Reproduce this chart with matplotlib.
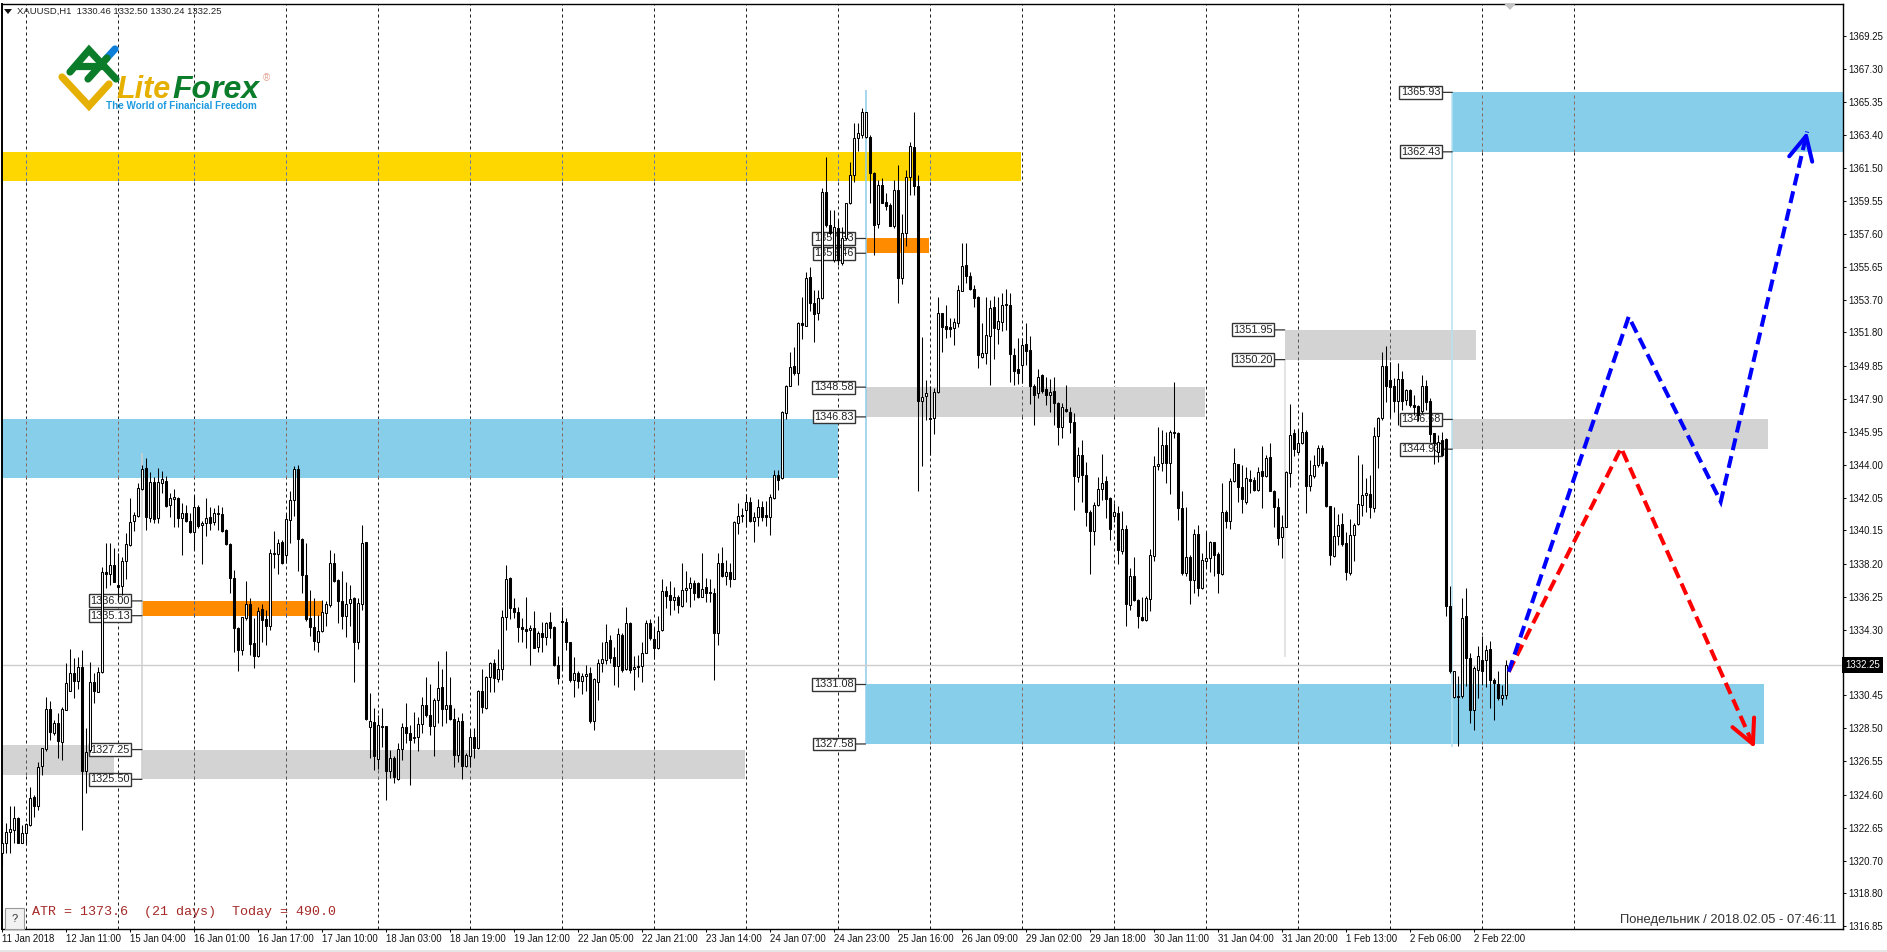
import numpy as np
import matplotlib
matplotlib.use("Agg")
import matplotlib.pyplot as plt
from matplotlib.patches import Rectangle, Polygon
from matplotlib.transforms import Affine2D, blended_transform_factory

W, H = 1887, 952

# hourly XAUUSD bars
opens = [
    1321.15,1321.74,1322.37,1322.53,1323.21,1321.78,1322.33,1322.82,1324.45,1323.90,
    1326.29,1327.27,1329.63,1328.21,1328.84,1327.72,1329.59,1330.70,1331.78,1331.31,
    1332.10,1325.96,1327.23,1331.21,1330.66,1331.80,1337.72,1337.59,1338.12,1336.94,
    1336.88,1338.37,1339.29,1340.70,1341.00,1342.57,1343.80,1340.86,1343.02,1340.86,
    1342.92,1343.08,1341.65,1341.98,1342.04,1340.86,1341.15,1340.72,1340.08,1341.55,
    1340.47,1340.57,1340.96,1340.66,1341.10,1341.10,1340.17,1339.35,1337.37,1334.43,
    1333.12,1334.98,1335.80,1333.51,1332.76,1335.51,1334.92,1334.55,1338.76,1338.76,
    1339.49,1338.70,1340.76,1341.94,1343.74,1339.63,1337.53,1334.98,1334.49,1333.61,
    1334.25,1335.31,1335.74,1338.21,1337.23,1336.02,1335.12,1335.86,1336.15,1333.61,
    1335.82,1339.45,1328.57,1328.90,1326.68,1328.57,1328.61,1325.96,1326.74,1325.51,
    1327.27,1328.57,1328.25,1327.92,1327.98,1328.76,1329.86,1329.29,1328.61,1330.17,
    1330.92,1329.63,1329.86,1329.04,1326.94,1328.92,1326.29,1326.88,1327.98,1327.33,
    1330.70,1329.68,1331.55,1332.37,1331.39,1331.98,1335.04,1337.33,1335.61,1335.37,
    1334.45,1334.35,1334.29,1334.39,1333.31,1334.14,1333.86,1334.73,1334.45,1332.24,
    1334.84,1334.78,1333.61,1331.35,1331.78,1331.27,1331.59,1331.75,1328.92,1331.25,
    1332.37,1332.53,1333.67,1332.69,1332.14,1334.00,1331.98,1334.69,1331.98,1332.18,
    1332.14,1332.92,1334.69,1333.75,1333.20,1334.29,1336.61,1336.33,1336.06,1336.25,
    1335.71,1336.65,1336.76,1337.04,1337.04,1336.25,1336.80,1336.55,1336.45,1334.14,
    1338.22,1337.47,1337.69,1337.31,1340.57,1341.02,1341.35,1341.84,1340.71,1340.96,
    1341.54,1341.05,1340.95,1342.05,1343.42,1343.23,1347.05,1348.66,1349.80,1349.40,
    1352.34,1352.19,1355.05,1353.52,1352.93,1353.82,1360.09,1358.13,1356.07,1357.95,
    1355.87,1357.34,1359.40,1361.05,1363.27,1363.42,1363.32,1363.32,1361.17,1358.17,
    1360.48,1359.50,1359.31,1358.07,1360.19,1355.03,1357.64,1360.93,1362.70,1360.44,
    1347.78,1348.07,1346.76,1346.76,1348.27,1352.97,1352.19,1352.11,1352.05,1352.34,
    1354.21,1355.78,1355.13,1354.34,1353.87,1350.38,1350.58,1351.60,1353.29,1351.99,
    1352.44,1353.40,1353.42,1350.48,1349.63,1349.89,1351.12,1350.77,1348.65,1348.22,
    1349.28,1348.46,1348.10,1348.38,1347.67,1346.26,1347.28,1347.14,1346.50,1343.28,
    1344.59,1343.42,1341.24,1340.09,1341.63,1342.58,1343.03,1342.05,1341.01,1341.20,
    1338.91,1340.22,1335.77,1337.44,1336.03,1335.08,1334.85,1336.10,1338.65,1343.95,
    1344.10,1345.18,1344.10,1345.97,1345.91,1341.44,1337.63,1338.61,1337.24,1339.95,
    1336.75,1338.32,1338.52,1339.44,1338.77,1337.59,1341.26,1340.73,1343.03,1344.05,
    1342.69,1341.85,1343.16,1343.12,1342.50,1343.62,1343.36,1344.44,1342.44,1341.50,
    1339.75,1340.34,1343.52,1345.87,1344.79,1345.28,1345.97,1342.77,1343.36,1344.00,
    1344.99,1344.15,1341.56,1338.66,1339.83,1340.52,1339.40,1337.64,1339.89,1340.54,
    1341.66,1342.24,1342.30,1341.46,1345.68,1346.75,1349.83,1349.01,1348.62,1347.79,
    1349.05,1347.83,1348.42,1347.54,1347.48,1347.15,1348.62,1347.79,1345.87,1344.79,
    1345.48,1345.52,1335.68,1330.32,1330.38,1330.38,1335.09,1332.64,1329.60,1331.95,
    1332.54,1332.50,1333.17,1331.36,1331.13,1330.28,1330.46,
]
highs = [
    1322.63,1322.92,1323.94,1323.94,1323.31,1322.82,1322.92,1325.04,1324.59,1326.49,
    1327.33,1330.37,1330.08,1329.00,1329.39,1329.78,1332.33,1333.15,1332.62,1332.68,
    1333.12,1328.51,1332.43,1331.74,1332.10,1338.02,1339.39,1339.39,1339.10,1338.80,
    1338.61,1339.98,1342.04,1341.25,1342.92,1344.00,1344.39,1343.61,1343.31,1343.80,
    1343.66,1343.35,1342.33,1342.57,1342.13,1341.74,1341.64,1341.19,1342.23,1341.64,
    1340.72,1342.04,1341.55,1341.45,1341.64,1341.55,1340.21,1339.39,1337.82,1334.49,
    1335.08,1337.19,1336.15,1334.98,1335.66,1335.82,1335.47,1339.04,1340.13,1339.63,
    1339.59,1341.19,1342.49,1343.94,1344.00,1339.68,1339.39,1336.65,1336.15,1335.17,
    1336.06,1336.02,1339.00,1338.80,1337.27,1337.78,1337.13,1336.94,1336.25,1336.15,
    1340.49,1339.49,1330.57,1329.68,1329.29,1329.68,1328.64,1327.23,1326.88,1327.63,
    1328.80,1329.98,1328.70,1329.49,1329.19,1330.37,1331.51,1331.12,1330.27,1332.47,
    1331.98,1333.08,1331.55,1329.68,1329.19,1329.39,1327.04,1328.45,1328.51,1330.76,
    1331.98,1331.59,1332.43,1332.57,1333.15,1335.47,1338.12,1337.43,1336.16,1335.67,
    1334.98,1336.22,1334.59,1335.43,1334.20,1334.78,1334.78,1335.33,1334.53,1332.76,
    1335.63,1334.98,1333.61,1332.69,1331.90,1331.75,1332.24,1332.10,1331.45,1332.57,
    1333.61,1334.65,1334.00,1333.31,1334.39,1334.10,1335.63,1334.78,1332.73,1332.82,
    1333.61,1334.88,1334.92,1334.39,1335.12,1337.27,1336.88,1337.20,1336.80,1336.35,
    1338.25,1337.78,1337.43,1337.24,1337.14,1338.84,1337.33,1337.29,1336.75,1338.84,
    1339.20,1338.41,1338.25,1340.73,1341.78,1341.45,1342.29,1342.10,1341.25,1341.98,
    1341.90,1341.90,1342.30,1343.72,1343.72,1347.15,1348.72,1350.62,1350.97,1352.44,
    1353.91,1355.38,1355.68,1354.31,1354.31,1360.29,1362.15,1359.01,1359.01,1358.42,
    1358.03,1359.40,1361.85,1364.11,1364.11,1364.99,1364.80,1363.42,1361.27,1360.78,
    1360.87,1360.03,1359.40,1360.78,1361.66,1358.78,1361.36,1363.03,1364.80,1361.07,
    1351.52,1349.01,1348.62,1348.52,1353.87,1352.97,1353.42,1352.64,1352.64,1354.60,
    1357.09,1357.09,1355.38,1354.60,1353.95,1352.34,1353.91,1353.72,1353.95,1353.91,
    1354.10,1354.34,1354.10,1350.87,1351.46,1351.46,1352.38,1351.59,1348.77,1349.63,
    1349.36,1349.20,1349.05,1349.16,1347.73,1347.67,1348.71,1347.44,1347.08,1345.08,
    1345.48,1344.20,1341.36,1341.85,1343.32,1344.65,1343.36,1342.14,1341.75,1341.59,
    1341.32,1340.48,1337.93,1338.58,1336.10,1336.22,1336.30,1339.05,1344.50,1346.26,
    1346.03,1345.97,1346.03,1348.91,1345.97,1342.44,1341.52,1338.71,1340.22,1340.48,
    1338.81,1340.08,1339.50,1339.48,1338.85,1342.93,1341.36,1343.22,1344.99,1344.07,
    1344.01,1343.87,1343.71,1343.32,1343.91,1345.13,1344.60,1345.28,1342.50,1342.05,
    1341.07,1343.62,1347.60,1346.11,1346.11,1347.09,1346.03,1344.30,1344.60,1345.19,
    1345.19,1344.21,1341.56,1341.52,1341.13,1341.17,1340.03,1340.81,1340.58,1344.60,
    1344.05,1343.22,1343.42,1346.26,1346.81,1350.62,1351.01,1350.09,1349.11,1350.03,
    1349.56,1348.46,1348.46,1348.13,1347.54,1349.30,1349.01,1347.93,1345.87,1345.77,
    1345.97,1345.58,1336.89,1331.85,1331.56,1336.17,1336.75,1332.93,1332.15,1333.32,
    1333.91,1333.42,1333.62,1331.46,1331.85,1331.07,1332.50,
]
lows = [
    1320.47,1321.19,1321.19,1321.74,1321.74,1321.74,1321.64,1322.76,1323.27,1323.70,
    1325.76,1327.17,1327.82,1328.12,1326.74,1326.61,1329.55,1330.70,1330.27,1330.80,
    1322.49,1324.68,1327.13,1329.98,1330.66,1331.74,1336.74,1336.94,1337.13,1336.06,
    1336.35,1337.27,1339.23,1340.13,1340.96,1342.53,1340.17,1340.66,1340.61,1340.57,
    1342.33,1341.55,1340.96,1340.37,1340.33,1338.70,1340.66,1339.98,1339.00,1340.27,
    1338.17,1339.82,1340.17,1340.47,1340.17,1340.08,1339.29,1336.45,1333.02,1331.90,
    1332.82,1334.88,1332.82,1332.04,1332.72,1333.61,1333.41,1334.29,1337.92,1337.59,
    1338.17,1338.21,1339.39,1341.00,1337.78,1336.45,1334.84,1333.94,1333.12,1333.02,
    1334.19,1334.53,1335.66,1337.13,1334.72,1334.33,1333.90,1334.53,1331.25,1333.15,
    1335.47,1329.00,1326.74,1326.06,1326.10,1327.43,1324.29,1325.57,1325.27,1325.43,
    1326.61,1327.63,1325.17,1327.66,1327.19,1328.21,1329.19,1328.12,1326.88,1328.84,
    1328.64,1328.80,1329.00,1326.25,1326.49,1325.51,1326.25,1326.25,1326.74,1327.27,
    1329.39,1329.63,1330.66,1330.66,1331.25,1331.35,1334.29,1334.92,1334.98,1333.61,
    1333.61,1333.22,1332.24,1333.22,1333.02,1333.02,1333.41,1333.80,1332.18,1331.12,
    1331.94,1333.12,1331.25,1330.37,1330.86,1330.53,1330.67,1328.80,1328.41,1330.14,
    1331.84,1332.29,1332.33,1331.06,1330.92,1331.84,1331.94,1331.75,1330.76,1331.55,
    1331.20,1332.92,1333.71,1332.57,1333.16,1334.20,1335.57,1335.18,1335.47,1335.27,
    1335.67,1335.96,1335.63,1336.06,1336.16,1336.22,1335.96,1335.96,1331.35,1333.41,
    1337.43,1336.94,1336.84,1337.27,1339.94,1340.67,1340.37,1340.67,1339.49,1340.41,
    1340.70,1340.40,1339.90,1342.00,1342.54,1343.17,1346.70,1348.62,1349.31,1348.72,
    1351.40,1352.15,1353.09,1351.21,1352.54,1353.76,1358.03,1357.54,1355.97,1355.78,
    1355.78,1357.25,1359.36,1360.68,1362.50,1363.23,1363.27,1359.40,1356.36,1357.93,
    1359.40,1359.01,1358.07,1357.93,1353.52,1354.66,1356.91,1359.89,1359.89,1342.44,
    1343.95,1346.66,1344.60,1345.83,1348.23,1350.62,1351.46,1351.52,1351.07,1352.11,
    1354.21,1354.70,1354.31,1353.32,1349.70,1350.29,1349.95,1348.72,1350.23,1351.13,
    1351.91,1351.95,1348.91,1348.71,1348.77,1348.81,1349.89,1347.59,1346.36,1347.93,
    1348.22,1347.54,1347.14,1346.36,1345.18,1345.58,1347.14,1345.87,1341.36,1342.97,
    1341.85,1340.38,1337.59,1339.30,1341.56,1341.95,1340.87,1339.59,1340.67,1338.18,
    1338.77,1334.50,1335.48,1335.97,1334.40,1334.79,1334.79,1335.38,1338.32,1343.71,
    1343.67,1342.93,1342.30,1345.58,1340.77,1337.54,1337.44,1335.83,1336.46,1336.26,
    1336.69,1337.93,1337.73,1337.44,1336.46,1337.54,1340.28,1340.22,1342.97,1341.85,
    1341.20,1341.71,1342.34,1342.44,1342.44,1341.46,1343.28,1342.44,1340.34,1339.30,
    1338.52,1340.34,1342.70,1344.50,1344.79,1345.24,1341.17,1342.44,1343.22,1343.87,
    1343.95,1341.52,1338.13,1338.58,1339.30,1339.24,1337.24,1337.54,1338.32,1340.48,
    1340.97,1341.26,1340.87,1341.26,1343.81,1346.66,1347.73,1346.85,1347.09,1346.36,
    1347.24,1347.54,1347.40,1346.95,1346.56,1347.05,1347.24,1345.38,1344.07,1344.20,
    1344.50,1335.09,1331.75,1330.28,1327.44,1330.28,1330.97,1328.81,1328.38,1330.28,
    1331.07,1330.93,1329.70,1329.01,1330.19,1329.89,1330.24,
]
closes = [
    1321.74,1322.39,1322.57,1323.21,1321.78,1322.33,1322.88,1324.39,1323.90,1326.25,
    1327.33,1329.63,1328.31,1328.84,1327.78,1329.63,1331.15,1331.78,1331.31,1332.10,
    1325.96,1327.13,1331.21,1330.72,1331.84,1337.72,1337.59,1338.12,1337.13,1336.84,
    1338.37,1339.33,1340.66,1341.06,1342.63,1343.74,1340.96,1343.02,1340.80,1343.02,
    1343.15,1341.59,1342.04,1342.13,1340.86,1341.15,1340.72,1340.08,1341.55,1340.41,
    1340.61,1340.90,1340.57,1341.19,1341.15,1340.12,1339.35,1337.37,1334.43,1333.12,
    1335.04,1335.80,1333.47,1332.76,1335.43,1334.88,1334.53,1338.84,1338.84,1339.43,
    1338.25,1340.80,1341.94,1343.74,1339.63,1337.53,1334.92,1334.49,1333.64,1334.25,
    1335.37,1335.80,1338.21,1337.19,1336.02,1335.12,1335.82,1336.13,1333.61,1335.90,
    1339.39,1329.04,1328.96,1326.88,1328.68,1328.64,1325.96,1326.74,1325.61,1327.27,
    1328.57,1328.25,1327.82,1327.98,1328.76,1329.86,1329.29,1328.61,1330.17,1330.86,
    1329.63,1329.86,1329.04,1326.94,1328.92,1326.29,1326.96,1327.98,1327.33,1330.70,
    1329.74,1331.55,1332.33,1331.45,1331.98,1335.04,1337.27,1335.57,1335.37,1334.49,
    1334.35,1334.20,1334.39,1333.25,1334.14,1333.90,1334.69,1334.43,1332.24,1331.49,
    1334.78,1333.61,1331.35,1331.78,1331.27,1331.59,1331.67,1328.96,1331.39,1332.33,
    1332.57,1333.61,1332.63,1332.14,1334.04,1331.94,1334.69,1331.94,1332.10,1332.10,
    1332.92,1334.69,1333.80,1333.20,1334.25,1336.61,1336.29,1336.06,1336.25,1335.76,
    1336.65,1336.75,1337.04,1336.45,1336.25,1336.73,1336.49,1336.45,1334.14,1338.22,
    1337.47,1337.69,1337.27,1340.67,1341.02,1341.06,1341.84,1340.71,1340.96,1341.55,
    1340.95,1340.95,1342.10,1343.42,1343.13,1347.09,1348.66,1349.74,1349.40,1352.38,
    1352.25,1354.99,1353.52,1352.89,1353.82,1360.09,1358.13,1357.64,1358.01,1356.07,
    1357.36,1359.40,1361.05,1363.23,1363.52,1364.76,1364.76,1361.21,1358.13,1360.48,
    1359.44,1359.27,1358.09,1360.19,1355.03,1357.64,1360.93,1362.78,1360.44,1347.78,
    1348.03,1348.23,1346.72,1348.32,1352.97,1352.11,1352.03,1352.03,1352.44,1354.27,
    1355.72,1355.13,1354.34,1353.82,1350.48,1350.58,1351.66,1353.23,1352.05,1352.50,
    1353.42,1353.48,1350.54,1349.56,1349.40,1351.07,1350.73,1348.65,1348.12,1349.20,
    1348.38,1348.12,1348.30,1347.67,1346.26,1347.40,1347.20,1346.50,1343.36,1344.59,
    1343.42,1341.24,1340.09,1341.65,1342.58,1342.93,1341.99,1340.22,1341.24,1339.01,
    1340.22,1335.83,1337.44,1336.03,1335.12,1334.89,1336.16,1338.71,1343.95,1344.07,
    1345.18,1344.10,1345.97,1345.91,1341.44,1337.63,1338.61,1337.24,1339.95,1336.75,
    1338.38,1338.52,1339.44,1338.71,1337.63,1341.26,1340.73,1343.03,1344.14,1342.69,
    1341.99,1343.22,1343.05,1342.54,1343.61,1343.36,1344.40,1342.44,1341.50,1339.70,
    1340.34,1343.56,1345.77,1344.93,1345.32,1345.97,1342.77,1343.42,1344.00,1344.99,
    1344.11,1341.56,1338.71,1339.83,1340.48,1339.36,1337.68,1339.89,1340.48,1341.71,
    1342.24,1342.34,1341.52,1345.71,1346.79,1349.83,1348.62,1348.58,1347.79,1349.05,
    1347.79,1348.42,1347.54,1347.44,1346.95,1348.62,1347.73,1345.83,1345.28,1345.38,
    1344.60,1335.68,1331.85,1331.85,1330.32,1334.99,1332.64,1329.56,1332.05,1332.77,
    1331.85,1333.09,1331.32,1331.17,1330.28,1330.48,1332.25,
]

date_labels = ["11 Jan 2018", "12 Jan 11:00", "15 Jan 04:00", "16 Jan 01:00", "16 Jan 17:00",
               "17 Jan 10:00", "18 Jan 03:00", "18 Jan 19:00", "19 Jan 12:00", "22 Jan 05:00",
               "22 Jan 21:00", "23 Jan 14:00", "24 Jan 07:00", "24 Jan 23:00", "25 Jan 16:00",
               "26 Jan 09:00", "29 Jan 02:00", "29 Jan 18:00", "30 Jan 11:00", "31 Jan 04:00",
               "31 Jan 20:00", "1 Feb 13:00", "2 Feb 06:00", "2 Feb 22:00"]
price_ticks = [1369.25, 1367.30, 1365.35, 1363.40, 1361.50, 1359.55, 1357.60, 1355.65, 1353.70,
               1351.80, 1349.85, 1347.90, 1345.95, 1344.00, 1342.05, 1340.15, 1338.20, 1336.25,
               1334.30, 1330.45, 1328.50, 1326.55, 1324.60, 1322.65, 1320.70, 1318.80, 1316.85]
day_bars = [6, 29, 48, 71, 94, 117, 140, 163, 186, 209, 232, 255, 278, 301, 324, 347, 370, 393]
last_price = 1332.25

# zones: start bar, end bar, low, high, colour
zones = [
    (-1, 254.6, 1360.70, 1362.43, "#FFD700"),
    (-1, 208.8, 1343.23, 1346.73, "#87CEEB"),
    (-1, 27.8, 1325.75, 1327.50, "#D3D3D3"),
    (34.9, 185.7, 1325.50, 1327.25, "#D3D3D3"),
    (34.9, 79.9, 1335.13, 1336.00, "#FF8C00"),
    (215.8, 231.7, 1356.46, 1357.33, "#FF8C00"),
    (215.8, 300.7, 1346.83, 1348.58, "#D3D3D3"),
    (215.8, 440.5, 1327.58, 1331.08, "#87CEEB"),
    (320.6, 368.5, 1350.20, 1351.95, "#D3D3D3"),
    (362.5, 441.5, 1344.93, 1346.68, "#D3D3D3"),
    (362.5, 461, 1362.43, 1365.93, "#87CEEB"),
]
grid_tints = {"#FFD700": "#6070a8", "#87CEEB": "#8a6a60", "#D3D3D3": "#555555", "#FF8C00": "#4060a0"}

# thin anchors: bar, top, bottom, colour
anchors = [
    (34.9, 1344.72, 1325.50, "#cfcfcf"),
    (215.8, 1366.07, 1327.58, "#8fcdea"),
    (320.6, 1350.20, 1332.70, "#dcdcdc"),
    (362.5, 1365.93, 1327.40, "#b5e2f2"),
]
tags = [
    (34.9, [1336.00, 1335.13, 1327.25, 1325.50]),
    (215.8, [1357.33, 1356.46, 1348.58, 1346.83, 1331.08, 1327.58]),
    (320.6, [1351.95, 1350.20]),
    (362.5, [1365.93, 1362.43, 1346.68, 1344.93]),
]

blue_bars = [376.6, 406.6, 429.6, 451.2]
blue_prices = [1331.83, 1352.73, 1341.84, 1363.62]
red_bars = [376.6, 404.7, 438.1]
red_prices = [1331.83, 1345.00, 1327.34]


def drawCandles(ax):
    x = np.arange(len(opens))
    o, h, l, c = map(np.array, (opens, highs, lows, closes))
    up = c >= o
    ax.vlines(x, l, h, color="black", lw=0.75, zorder=4)
    bottom = np.minimum(o, c)
    height = np.maximum(np.abs(c - o), 0.03)
    ax.bar(x[up], height[up], bottom=bottom[up], width=0.55, facecolor="white",
           edgecolor="black", lw=0.75, zorder=5)
    ax.bar(x[~up], height[~up], bottom=bottom[~up], width=0.55, facecolor="black",
           edgecolor="black", lw=0.75, zorder=5)


def drawZones(ax):
    ax.vlines(day_bars, 1316, 1372, color="#222222", lw=0.72, linestyles=(0, (3, 3)), zorder=0.5)
    for start, end, low, high, colour in zones:
        ax.add_patch(Rectangle((start, low), end - start, high - low, facecolor=colour,
                               edgecolor="none", zorder=1))
        inside = [b for b in day_bars if start < b < end]
        ax.vlines(inside, low, high, color=grid_tints[colour], lw=0.72,
                  linestyles=(0, (3, 3)), zorder=1.5)
    for bar, top, bottom, colour in anchors:
        ax.vlines(bar, bottom, top, color=colour, lw=1.1, zorder=1.6)
    ax.axhline(last_price, color="#cccccc", lw=1.0, zorder=2)


def drawTags(ax):
    for bar, levels in tags:
        for level in levels:
            ax.annotate(f"{level:.2f}", xy=(bar, level), xytext=(-12, 0), textcoords="offset pixels",
                        ha="right", va="center", fontsize=7.8, color="#222222", zorder=3,
                        family="Liberation Sans",
                        bbox=dict(boxstyle="square,pad=0.13", fc="white", ec="#333333", lw=1.0),
                        arrowprops=dict(arrowstyle="-", color="#333333", lw=0.9, shrinkA=0, shrinkB=0))


def drawPath(ax, bars, prices, colour):
    ax.plot(bars, prices, color=colour, lw=2.9, linestyle=(0, (3.0, 1.5)), zorder=6,
            dash_capstyle="butt", dash_joinstyle="miter")
    tip = np.array([bars[-1], prices[-1]])
    back = tip + 0.02 * (np.array([bars[-2], prices[-2]]) - tip)
    ax.annotate("", xy=tip, xytext=back, zorder=7,
                arrowprops=dict(arrowstyle="->,head_length=1.7,head_width=0.85", color=colour, lw=2.9,
                                shrinkA=0, shrinkB=0, mutation_scale=10))


def drawLogo(fig, px):
    def stroke(xs, ys, colour):
        fig.add_artist(plt.Line2D(xs, ys, transform=px, color=colour, lw=5.2, solid_capstyle="round",
                                  solid_joinstyle="miter"))
    stroke([105, 115], [60, 49], "#0E7FD8")
    stroke([70, 89, 116], [72, 50, 79], "#0B7D2A")
    stroke([76, 102], [66, 66], "#0B7D2A")
    stroke([88, 107], [79, 58], "#0B7D2A")
    stroke([62, 89, 109], [77, 106, 84], "#E6B000")
    fig.text(116, 98, "Lite", transform=px, fontsize=22, fontweight="bold", style="italic", color="#E6B000",
             family="Liberation Sans", va="baseline")
    fig.text(172, 98, "Forex", transform=px, fontsize=23, fontweight="bold", style="italic", color="#0B7D2A",
             family="Liberation Sans", va="baseline")
    fig.text(266.5, 78, "®", transform=px, fontsize=7, color="#E0A090", ha="center", va="center",
             family="Liberation Sans")
    fig.text(106, 105.7, "The World of Financial Freedom", transform=px, fontsize=7.1, fontweight="bold",
             color="#1E9BE0", va="center", family="Liberation Sans")


def drawOverlay(fig, ax, px):
    fig.add_artist(Polygon([(4, 9), (12, 9), (8, 14)], closed=True, transform=px, facecolor="#111111",
                           edgecolor="none"))
    fig.text(16.7, 11.7, "XAUUSD,H1  1330.46 1332.50 1330.24 1332.25", transform=px, fontsize=6.8,
             color="#222222", va="center", family="Liberation Sans")
    fig.add_artist(Polygon([(1504, 3.5), (1516, 3.5), (1510, 10)], closed=True, transform=px,
                           facecolor="#c4c4c4", edgecolor="none"))
    fig.add_artist(Rectangle((5, 908), 18.7, 21, transform=px, facecolor="#f2f2f2", edgecolor="#999999", lw=0.8))
    fig.text(14.3, 919, "?", transform=px, fontsize=8, color="#333333", ha="center", va="center",
             family="Liberation Sans")
    fig.text(31.8, 911.7, "ATR = 1373.6  (21 days)  Today = 490.0", transform=px, fontsize=9.6, color="#A52A2A",
             va="center", family="Liberation Mono")
    fig.text(1837, 920, "Понедельник / 2018.02.05 - 07:46:11", transform=px, fontsize=9.4, color="#333333",
             ha="right", va="center", family="Liberation Sans")
    fig.add_artist(Rectangle((0, 950), W, 2, transform=px, facecolor="#e6e6e6", edgecolor="none"))
    trans = blended_transform_factory(ax.transAxes, ax.transData)
    ax.text(1.0012, last_price, f"{last_price:.2f}", transform=trans, fontsize=6.9, color="white", va="center",
            ha="left", family="Liberation Sans", zorder=8, clip_on=False,
            bbox=dict(boxstyle="square,pad=0.32", fc="black", ec="none"))


def main():
    fig = plt.figure(figsize=(W / 100, H / 100), dpi=100, facecolor="white")
    left, right, top, bottom = 2, 1843, 3.5, 929
    ax = fig.add_axes([left / W, 1 - bottom / H, (right - left) / W, (bottom - top) / H])
    px = Affine2D().scale(1 / W, -1 / H).translate(0, 1) + fig.transFigure

    drawZones(ax)
    drawTags(ax)
    drawCandles(ax)
    drawPath(ax, red_bars, red_prices, "#FF0000")
    drawPath(ax, blue_bars, blue_prices, "#0000FF")

    ax.set_xlim(-0.08, 460.17)
    ax.set_ylim(1316.69, 1371.16)
    ax.yaxis.tick_right()
    ax.set_yticks(price_ticks, [f"{t:.2f}" for t in price_ticks])
    ax.set_xticks(np.arange(len(date_labels)) * 16, date_labels)
    ax.tick_params(axis="both", length=2.4, width=0.75, labelsize=6.9, pad=1.5, colors="#111111")
    for label in ax.get_xticklabels():
        label.set_ha("left")
        label.set_fontfamily("Liberation Sans")
    for label in ax.get_yticklabels():
        label.set_fontfamily("Liberation Sans")
    for spine in ax.spines.values():
        spine.set_linewidth(1.0)
    ax.spines["left"].set_linewidth(1.4)

    drawLogo(fig, px)
    drawOverlay(fig, ax, px)
    fig.savefig("out.png", dpi=100)


if __name__ == "__main__":
    main()
